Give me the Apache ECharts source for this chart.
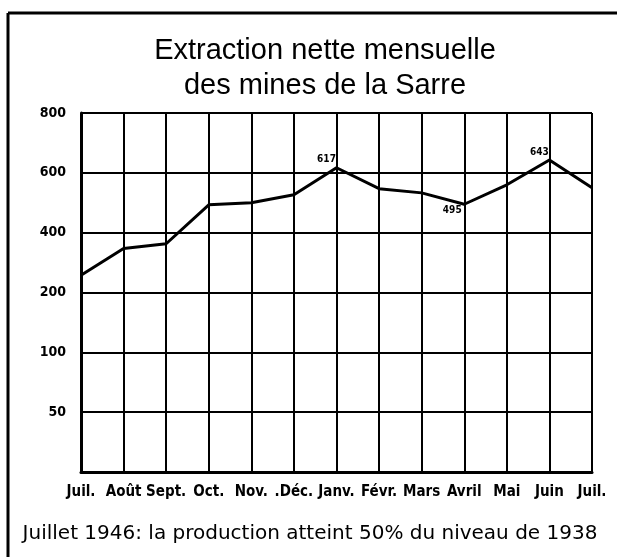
<!DOCTYPE html>
<html>
<head>
<meta charset="utf-8">
<script src="https://cdn.jsdelivr.net/npm/echarts@6/dist/echarts.min.js"></script>
<style>
  html, body { margin: 0; padding: 0; background: #fff; }
  #chart { width: 617px; height: 557px; }
</style>
</head>
<body>
<div id="chart"></div>
<script>
  // mois juillet 1946 - juillet 1947
  const months = ['Juil.', 'Août', 'Sept.', 'Oct.', 'Nov.', '.Déc.', 'Janv.', 'Févr.', 'Mars', 'Avril', 'Mai', 'Juin', 'Juil.']
  // extraction nette (milliers de tonnes)
  const extraction = [258, 347, 363, 493, 500, 527, 617, 547, 533, 495, 560, 643, 550]
  // valeurs chiffrées sur le graphique
  const annotated = { 6: 'top', 9: 'bottom', 11: 'top' }
  // graduations de l'axe (espacées régulièrement, échelle non linéaire)
  const yTicks = [0, 50, 100, 200, 400, 600, 800]

  // valeur -> position sur l'axe (interpolation entre graduations)
  function toAxis (v) {
    for (let i = 1; i < yTicks.length; i++) {
      if (v <= yTicks[i]) {
        return i - 1 + (v - yTicks[i - 1]) / (yTicks[i] - yTicks[i - 1])
      }
    }
    return yTicks.length - 1
  }

  const lineData = extraction.map((v, i) => {
    const item = { value: toAxis(v), raw: v }
    if (annotated[i]) {
      item.label = {
        show: true,
        position: annotated[i],
        offset: annotated[i] === 'top' ? [-10, 2] : [-12, -4],
        formatter: String(v),
        fontFamily: 'DejaVu Sans Condensed',
        fontWeight: 'bold',
        fontSize: 10,
        color: '#000'
      }
    }
    return item
  })

  const myChart = echarts.init(document.getElementById('chart'))
  const option = {
    animation: false,
    backgroundColor: '#fff',
    title: [
      {
        text: 'Extraction nette mensuelle\ndes mines de la Sarre',
        left: 320,
        top: 28,
        textAlign: 'center',
        textStyle: {
          fontFamily: 'Liberation Sans',
          fontWeight: 'normal',
          fontSize: 29,
          lineHeight: 35,
          color: '#000'
        }
      },
      {
        text: 'Juillet 1946: la production atteint 50% du niveau de 1938',
        left: 305,
        top: 519,
        textAlign: 'center',
        textStyle: {
          fontFamily: 'DejaVu Sans',
          fontWeight: 'normal',
          fontSize: 20,
          color: '#000'
        }
      }
    ],
    graphic: [
      { type: 'line', shape: { x1: 8, y1: 13, x2: 617, y2: 13 }, style: { stroke: '#000', lineWidth: 3 } },
      { type: 'line', shape: { x1: 8, y1: 13, x2: 8, y2: 557 }, style: { stroke: '#000', lineWidth: 3 } }
    ],
    grid: {
      left: 81,
      right: 25,
      top: 113,
      bottom: 85
    },
    xAxis: {
      type: 'category',
      boundaryGap: false,
      data: months,
      axisLine: { lineStyle: { color: '#000', width: 3 } },
      axisTick: { show: false },
      axisLabel: {
        interval: 0,
        margin: 13,
        color: '#000',
        fontFamily: 'DejaVu Sans Condensed',
        fontWeight: 'bold',
        fontSize: 15
      },
      splitLine: { show: true, lineStyle: { color: '#000', width: 2 } }
    },
    yAxis: {
      type: 'value',
      min: 0,
      max: yTicks.length - 1,
      interval: 1,
      axisLine: { show: true, lineStyle: { color: '#000', width: 3 } },
      axisTick: { show: false },
      axisLabel: {
        margin: 15,
        color: '#000',
        fontFamily: 'DejaVu Sans Condensed',
        fontWeight: 'bold',
        fontSize: 14,
        formatter: function (val) {
          const t = yTicks[Math.round(val)]
          return t ? String(t) : ''
        }
      },
      splitLine: { show: true, lineStyle: { color: '#000', width: 2 } }
    },
    series: [
      {
        name: 'Extraction',
        type: 'line',
        data: lineData,
        symbol: 'circle',
        symbolSize: 0,
        showSymbol: true,
        lineStyle: { color: '#000', width: 3 },
        z: 5
      }
    ]
  }
  myChart.setOption(option)
</script>
</body>
</html>
